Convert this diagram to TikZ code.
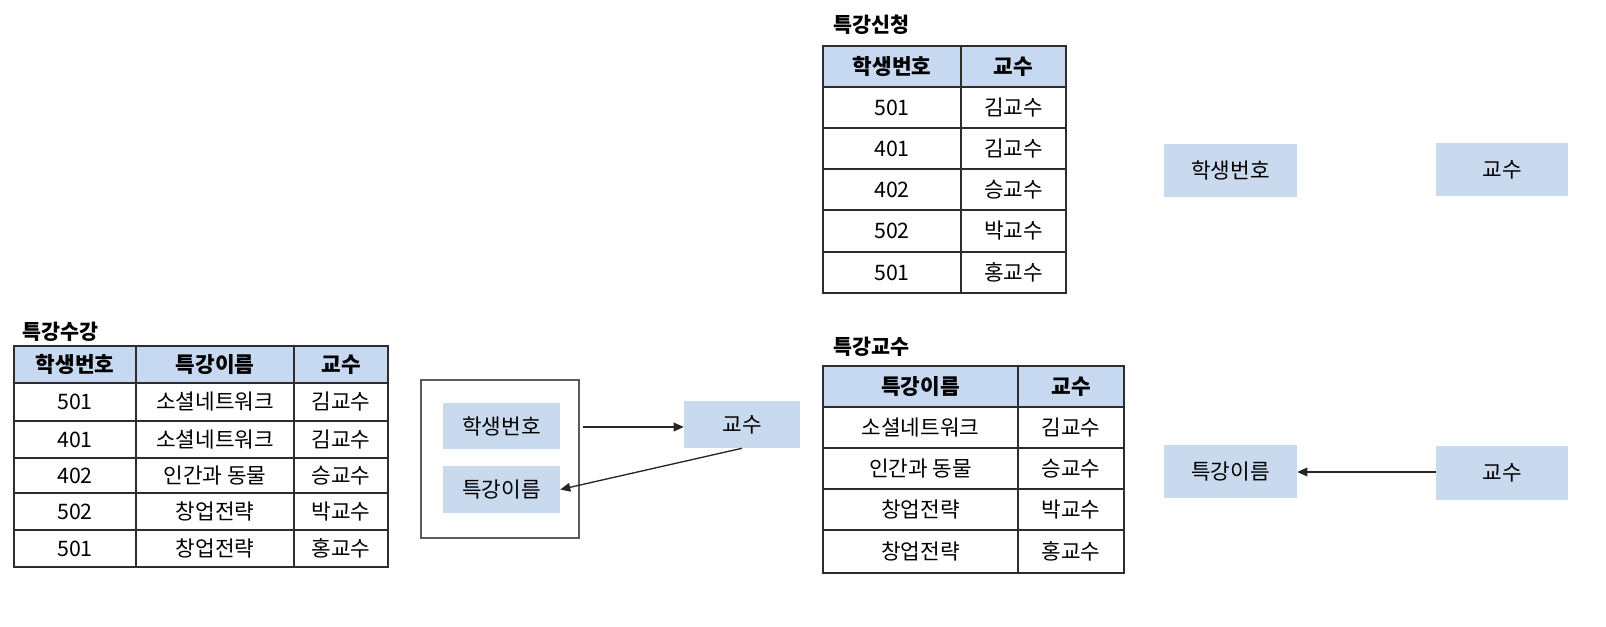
\documentclass[tikz,border=0pt]{standalone}
\usepackage{fontspec}
\setmainfont{Noto Sans CJK KR}
\usetikzlibrary{arrows.meta}
\definecolor{hdr}{RGB}{198,217,241}
\definecolor{bx}{RGB}{201,217,238}
\definecolor{grid}{RGB}{45,45,45}
\definecolor{frame}{RGB}{90,90,90}
\tikzset{
  cellline/.style={draw=grid,line width=1.1pt},
  celltxt/.style={inner sep=0pt,font=\fontsize{16}{18}\selectfont},
  title/.style={inner sep=0pt,anchor=west,font=\fontsize{15.5}{18}\selectfont\bfseries},
  bluebox/.style={fill=bx,inner sep=0pt,font=\fontsize{16}{18}\selectfont},
  arr/.style={draw=black!85,line width=1pt,-{Triangle[length=7.5pt,width=6.5pt]}}
}
\newcommand\tcell[7]{%
  \path[cellline,fill=#6] (#2,#3) rectangle (#4,#5);
  \node[celltxt] (#1) at ({(#2+#4)/2},{(#3+#5)/2}) {#7};}
\begin{document}
\begin{tikzpicture}[x=0.75pt,y=-0.75pt]
\useasboundingbox[fill=white] (0,0) rectangle (1606,626);

% ---- table 특강수강 ----
\node[title] (t1) at (22,332) {특강수강};
\tcell{L0a}{14}{346}{136}{383}{hdr}{\bfseries 학생번호}
\tcell{L0b}{136}{346}{294}{383}{hdr}{\bfseries 특강이름}
\tcell{L0c}{294}{346}{388}{383}{hdr}{\bfseries 교수}
\foreach \r/\ya/\yb/\a/\b/\c in {1/383/421/501/소셜네트워크/김교수,2/421/458/401/소셜네트워크/김교수,3/458/493/402/인간과 동물/승교수,4/493/530/502/창업전략/박교수,5/530/567/501/창업전략/홍교수}{
  \tcell{L\r a}{14}{\ya}{136}{\yb}{white}{\a}
  \tcell{L\r b}{136}{\ya}{294}{\yb}{white}{\b}
  \tcell{L\r c}{294}{\ya}{388}{\yb}{white}{\c}
}

% ---- table 특강신청 ----
\node[title] (t2) at (833,25) {특강신청};
\tcell{A0a}{823}{46}{961}{87}{hdr}{\bfseries 학생번호}
\tcell{A0b}{961}{46}{1066}{87}{hdr}{\bfseries 교수}
\foreach \r/\ya/\yb/\a/\b in {1/87/128/501/김교수,2/128/169/401/김교수,3/169/210/402/승교수,4/210/252/502/박교수,5/252/293/501/홍교수}{
  \tcell{A\r a}{823}{\ya}{961}{\yb}{white}{\a}
  \tcell{A\r b}{961}{\ya}{1066}{\yb}{white}{\b}
}

% ---- table 특강교수 ----
\node[title] (t3) at (833,347) {특강교수};
\tcell{B0a}{823}{366}{1018}{407}{hdr}{\bfseries 특강이름}
\tcell{B0b}{1018}{366}{1124}{407}{hdr}{\bfseries 교수}
\foreach \r/\ya/\yb/\a/\b in {1/407/448/소셜네트워크/김교수,2/448/489/인간과 동물/승교수,3/489/530/창업전략/박교수,4/530/573/창업전략/홍교수}{
  \tcell{B\r a}{823}{\ya}{1018}{\yb}{white}{\a}
  \tcell{B\r b}{1018}{\ya}{1124}{\yb}{white}{\b}
}

% ---- middle diagram ----
\node[draw=frame,line width=1.1pt,minimum width=118.5pt,minimum height=118.5pt,inner sep=0pt] (outer) at (500,459) {};
\node[bluebox,minimum width=87.75pt,minimum height=34.5pt] (hak1) at (501.5,426) {학생번호};
\node[bluebox,minimum width=87.75pt,minimum height=35.25pt] (tk1) at (501.5,489.5) {특강이름};
\node[bluebox,minimum width=87pt,minimum height=35.25pt] (kyo1) at (742,424.5) {교수};
\coordinate (s1) at ([xshift=2.25pt]outer.east |- 0,427);
\draw[arr] (s1) -- (kyo1.west |- s1);
\draw[arr] (kyo1.south) -- (tk1.east);

% ---- right diagram ----
\node[bluebox,minimum width=99.75pt,minimum height=39.75pt] (hak2) at (1230.5,170.5) {학생번호};
\node[bluebox,minimum width=99pt,minimum height=39.75pt] (kyo2) at (1502,169.5) {교수};
\node[bluebox,minimum width=99.75pt,minimum height=39.75pt] (tk2) at (1230.5,471.5) {특강이름};
\node[bluebox,minimum width=99pt,minimum height=40.5pt] (kyo3) at (1502,473) {교수};
\draw[arr] (kyo3.west |- 0,472) -- (tk2.east |- 0,472);
\end{tikzpicture}
\end{document}
